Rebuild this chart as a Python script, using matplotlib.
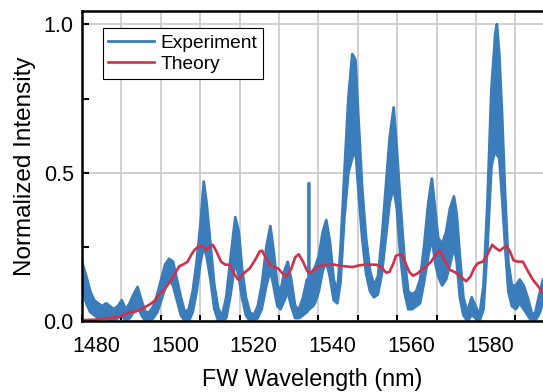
import numpy as np
import matplotlib.pyplot as plt
from matplotlib.ticker import MultipleLocator, FixedLocator

plt.rcParams['font.family'] = ['Liberation Sans', 'DejaVu Sans']

# Experiment: noisy band, upper and lower envelope
exp_wl = [1476.4, 1477.5, 1478.5, 1479.5, 1480.5, 1481.5, 1482.5, 1483.5, 1484.5, 1485.5,
          1486.5, 1487.5, 1488.5, 1489.5, 1490.5, 1491.5, 1492.5, 1493.5, 1494.5, 1495.5,
          1496.5, 1497.5, 1498.5, 1499.5, 1500.5, 1501.5, 1502.5, 1503.5, 1504.5, 1505.5,
          1506.5, 1507.3, 1508.0, 1509.0, 1510.0, 1511.0, 1512.0, 1513.0, 1514.0, 1515.3,
          1516.2, 1517.0, 1518.0, 1519.0, 1520.0, 1521.0, 1522.0, 1523.2, 1524.2, 1525.0,
          1526.0, 1526.8, 1527.8, 1528.6, 1529.5, 1530.5, 1531.5, 1532.5, 1533.5, 1533.9,
          1534.0, 1534.1, 1535.0, 1535.5, 1536.5, 1537.5, 1538.4, 1539.3, 1540.3, 1541.2,
          1542.0, 1543.0, 1544.0, 1545.0, 1545.8, 1546.5, 1547.5, 1548.5, 1549.5, 1550.5,
          1551.5, 1552.5, 1553.5, 1554.5, 1555.5, 1556.3, 1557.2, 1558.2, 1559.2, 1560.2,
          1561.2, 1562.2, 1563.2, 1564.3, 1565.2, 1566.0, 1566.8, 1567.8, 1568.8, 1569.8,
          1570.8, 1571.5, 1572.3, 1573.2, 1574.2, 1575.3, 1576.3, 1577.3, 1578.3, 1579.3,
          1580.3, 1581.3, 1581.7, 1582.3, 1583.0, 1583.8, 1584.6, 1585.5, 1586.5, 1587.5,
          1588.5, 1589.5, 1590.5, 1591.3, 1592.3, 1593.4]
exp_hi = [0.20, 0.15, 0.10, 0.07, 0.06, 0.05, 0.06, 0.05, 0.04, 0.05,
          0.07, 0.04, 0.06, 0.09, 0.115, 0.07, 0.03, 0.03, 0.05, 0.09,
          0.14, 0.19, 0.21, 0.20, 0.14, 0.08, 0.03, 0.04, 0.10, 0.20,
          0.33, 0.47, 0.40, 0.26, 0.12, 0.04, 0.02, 0.08, 0.20, 0.35,
          0.30, 0.18, 0.08, 0.03, 0.02, 0.05, 0.12, 0.25, 0.32, 0.24,
          0.12, 0.10, 0.17, 0.20, 0.14, 0.05, 0.04, 0.08, 0.14, 0.13,
          0.465, 0.13, 0.17, 0.18, 0.22, 0.30, 0.34, 0.27, 0.14, 0.10,
          0.24, 0.50, 0.75, 0.90, 0.88, 0.70, 0.45, 0.28, 0.17, 0.12,
          0.15, 0.28, 0.45, 0.62, 0.72, 0.58, 0.40, 0.22, 0.10, 0.09,
          0.10, 0.14, 0.25, 0.40, 0.48, 0.38, 0.28, 0.26, 0.30, 0.38,
          0.42, 0.36, 0.22, 0.08, 0.03, 0.08, 0.05, 0.02, 0.12, 0.40,
          0.78, 0.97, 1.00, 0.90, 0.70, 0.42, 0.20, 0.12, 0.12, 0.14,
          0.12, 0.08, 0.03, 0.02, 0.08, 0.14]
exp_lo = [0.10, 0.06, 0.03, 0.02, 0.01, 0.01, 0.01, 0.00, 0.00, 0.01,
          0.02, 0.00, 0.01, 0.03, 0.05, 0.02, 0.00, 0.00, 0.01, 0.03,
          0.07, 0.11, 0.14, 0.12, 0.07, 0.02, 0.00, 0.00, 0.03, 0.10,
          0.20, 0.25, 0.22, 0.14, 0.04, 0.00, 0.00, 0.01, 0.08, 0.20,
          0.15, 0.08, 0.02, 0.00, 0.00, 0.01, 0.04, 0.12, 0.17, 0.12,
          0.05, 0.04, 0.07, 0.10, 0.05, 0.01, 0.01, 0.02, 0.03, 0.04,
          0.05, 0.04, 0.05, 0.06, 0.10, 0.17, 0.20, 0.15, 0.07, 0.06,
          0.13, 0.35, 0.50, 0.55, 0.58, 0.45, 0.28, 0.16, 0.10, 0.08,
          0.09, 0.16, 0.28, 0.40, 0.45, 0.38, 0.22, 0.10, 0.04, 0.04,
          0.05, 0.06, 0.13, 0.22, 0.28, 0.20, 0.15, 0.12, 0.14, 0.19,
          0.25, 0.20, 0.08, 0.02, 0.00, 0.02, 0.01, 0.00, 0.04, 0.25,
          0.52, 0.58, 0.56, 0.55, 0.42, 0.25, 0.10, 0.05, 0.04, 0.06,
          0.04, 0.02, 0.00, 0.00, 0.02, 0.06]

# Theory curve
th_wl = [1476.4, 1480, 1483, 1486, 1488.5, 1490, 1491.4, 1493.5, 1495, 1496,
         1497.5, 1498.6, 1500, 1501.1, 1502, 1503.2, 1504.2, 1505, 1506.2, 1507,
         1507.9, 1508.8, 1509.6, 1510.5, 1511.7, 1512.8, 1513.8, 1515, 1516, 1517,
         1518, 1519, 1520.5, 1521.5, 1522.1, 1523, 1524, 1525, 1526.1, 1527.2,
         1528.2, 1529.5, 1530.5, 1531.4, 1532.5, 1533.5, 1534.1, 1535, 1536.2, 1537.5,
         1539.2, 1540.5, 1541.8, 1543.5, 1545.1, 1546.5, 1548.1, 1549.5, 1551.1, 1552.5,
         1553.6, 1554.4, 1555.3, 1556.1, 1557.4, 1558.5, 1559.5, 1560.4, 1561.5, 1562.5,
         1563.8, 1565, 1566.2, 1567.1, 1568, 1569.7, 1571, 1572.5, 1573.9, 1575,
         1576, 1576.9, 1578.1, 1579.3, 1580.5, 1581.5, 1582.4, 1583.2, 1584.1, 1585,
         1585.9, 1587, 1588.3, 1589.5, 1590.8, 1592, 1593.4]
th_val = [0.003, 0.005, 0.01, 0.015, 0.03, 0.032, 0.04, 0.055, 0.07, 0.09,
          0.11, 0.13, 0.16, 0.185, 0.19, 0.20, 0.225, 0.24, 0.255, 0.25,
          0.24, 0.25, 0.257, 0.235, 0.20, 0.19, 0.19, 0.16, 0.14, 0.155,
          0.167, 0.178, 0.21, 0.235, 0.237, 0.215, 0.19, 0.182, 0.178, 0.162,
          0.15, 0.175, 0.215, 0.225, 0.20, 0.17, 0.163, 0.168, 0.183, 0.188,
          0.19, 0.19, 0.186, 0.184, 0.182, 0.187, 0.19, 0.19, 0.19, 0.18,
          0.163, 0.165, 0.19, 0.22, 0.226, 0.195, 0.165, 0.153, 0.16, 0.172,
          0.184, 0.20, 0.225, 0.237, 0.215, 0.173, 0.165, 0.15, 0.134, 0.15,
          0.18, 0.195, 0.20, 0.225, 0.257, 0.245, 0.237, 0.245, 0.254, 0.235,
          0.205, 0.20, 0.20, 0.17, 0.14, 0.12, 0.095]

blue = '#3a7dba'
red = '#d1304b'

fig = plt.figure(figsize=(5.43, 3.92), dpi=100)
ax = fig.add_axes([0.151, 0.181, 0.849, 0.791])

ax.fill_between(exp_wl, exp_lo, exp_hi, color=blue, lw=0)
ax.plot(exp_wl, exp_hi, color=blue, lw=2, label='Experiment')
ax.plot(exp_wl, exp_lo, color=blue, lw=2)
ax.plot(th_wl, th_val, color=red, lw=1.9, label='Theory')

ax.set_xlim(1476.4, 1593.4)
ax.set_ylim(0, 1.045)

# labels every 20 nm, tick marks / grid every 10 nm (offset as in the original)
ax.xaxis.set_major_locator(FixedLocator([1480, 1500, 1520, 1540, 1560, 1580]))
ax.xaxis.set_minor_locator(FixedLocator(np.arange(1476.4, 1594, 10)))
ax.tick_params(axis='x', which='major', length=0, labelsize=15.5, pad=11)
ax.tick_params(axis='x', which='minor', direction='in', length=4, width=1.5)
ax.grid(True, axis='x', which='minor', color='#c8c8c8', lw=1.2)

ax.set_yticks([0, 0.5, 1.0])
ax.set_yticklabels(['0.0', '0.5', '1.0'])
ax.yaxis.set_minor_locator(MultipleLocator(0.25))
ax.tick_params(axis='y', which='major', direction='in', length=5, width=1.5, labelsize=15.5, pad=6)
ax.tick_params(axis='y', which='minor', direction='in', length=5, width=1.5)
ax.grid(True, axis='y', which='major', color='#c8c8c8', lw=1.2)
ax.set_axisbelow(True)

for s in ['left', 'bottom', 'top']:
    ax.spines[s].set_linewidth(1.8)
ax.spines['right'].set_visible(False)

ax.set_xlabel('FW Wavelength (nm)', fontsize=16.8, labelpad=8)
ax.set_ylabel('Normalized Intensity', fontsize=17.5, labelpad=5)

leg = ax.legend(loc='upper left', bbox_to_anchor=(0.045, 0.944), fontsize=13.8,
                fancybox=False, framealpha=1, edgecolor='black', handlelength=2.4,
                borderpad=0.3, labelspacing=0.2, handletextpad=0.3, borderaxespad=0)
leg.get_frame().set_linewidth(0.8)

plt.savefig('out.png', dpi=100)
